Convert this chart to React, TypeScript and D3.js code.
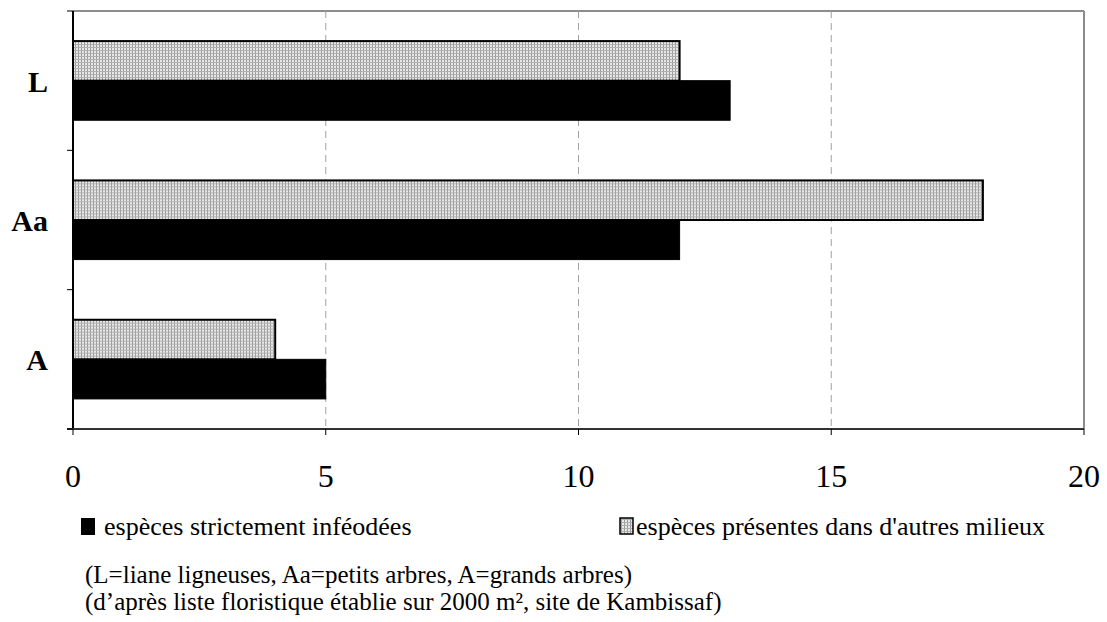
import React from "react";
import * as d3 from "d3";

const categories = ["L", "Aa", "A"];
const seriesNames = ["espèces présentes dans d'autres milieux", "espèces strictement inféodées"];
const presentesValues = [12, 18, 4];
const infeodeesValues = [13, 12, 5];
const xTicks = [0, 5, 10, 15, 20];
const noteLines = [
  "(L=liane ligneuses, Aa=petits arbres, A=grands arbres)",
  "(d\u2019après liste floristique établie sur 2000 m², site de Kambissaf)",
];

const W = 1107;
const H = 622;
const left = 73;
const right = 1084;
const top = 11;
const bottom = 429;
const FONT = "Liberation Serif, Times New Roman, Times, serif";

export default function App() {
  const x = d3.scaleLinear().domain([0, 20]).range([left, right]);
  const y = d3.scaleBand<string>().domain(categories).range([top, bottom]).padding(0);
  const inner = d3
    .scaleBand<string>()
    .domain(["presentes", "infeodees"])
    .range([0, y.bandwidth()])
    .paddingInner(0)
    .paddingOuter(0.76);
  const bands = categories.map((c) => y(c)!);
  const yTickPos = [...bands, bottom];
  const ts = { fontFamily: FONT };

  return (
    <svg width={W} height={H} style={{ position: "absolute", left: 0, top: 0, background: "#fff", fontFamily: FONT }}>
      <defs>
        <pattern id="dots" width={3} height={3} patternUnits="userSpaceOnUse">
          <rect width={3} height={3} fill="#e8e8e8" />
          <rect x={0} y={0} width={1} height={3} fill="#9a9a9a" />
          <rect x={0} y={0} width={3} height={1} fill="#b0b0b0" />
        </pattern>
      </defs>
      {/* frame */}
      <line x1={left} x2={right} y1={top} y2={top} stroke="#8c8c8c" strokeWidth={2} />
      <line x1={right} x2={right} y1={top} y2={bottom} stroke="#8c8c8c" strokeWidth={2} />
      {/* gridlines */}
      {xTicks.slice(1, -1).map((t) => (
        <line key={t} x1={x(t)} x2={x(t)} y1={top} y2={bottom} stroke="#a0a0a0" strokeWidth={1} strokeDasharray="7,5" />
      ))}
      {/* bars */}
      {categories.map((c, i) => (
        <g key={c} transform={`translate(0,${y(c)})`}>
          <rect
            x={x(0)}
            y={inner("presentes")}
            width={x(presentesValues[i]) - x(0)}
            height={inner.bandwidth()}
            fill="url(#dots)"
            stroke="#000"
            strokeWidth={2}
          />
          <rect
            x={x(0)}
            y={inner("infeodees")}
            width={x(infeodeesValues[i]) - x(0)}
            height={inner.bandwidth()}
            fill="#000"
            stroke="#000"
            strokeWidth={1}
          />
        </g>
      ))}
      {/* axes */}
      <line x1={left} x2={left} y1={top} y2={bottom} stroke="#000" strokeWidth={2} />
      <line x1={left - 6} x2={right} y1={bottom} y2={bottom} stroke="#333" strokeWidth={2} />
      {yTickPos.map((p, i) => (
        <line key={i} x1={left - 6} x2={left} y1={p} y2={p} stroke="#000" strokeWidth={1} />
      ))}
      {xTicks.map((t) => (
        <line key={t} x1={x(t)} x2={x(t)} y1={bottom} y2={bottom + 6} stroke="#000" strokeWidth={1} />
      ))}
      {xTicks.map((t) => (
        <text key={t} x={x(t)} y={487} textAnchor="middle" fontSize={32} fill="#000" style={ts}>
          {t}
        </text>
      ))}
      {categories.map((c) => (
        <text key={c} x={48} y={y(c)! + y.bandwidth() / 2 + 11} textAnchor="end" fontSize={30} fontWeight="bold" fill="#000" style={ts}>
          {c}
        </text>
      ))}
      {/* legend */}
      <rect x={81} y={518} width={14} height={17} fill="#000" />
      <text x={104} y={535} fontSize={26} fill="#000" style={ts}>{seriesNames[1]}</text>
      <rect x={620} y={518} width={13} height={16} fill="url(#dots)" stroke="#000" strokeWidth={1.5} />
      <text x={636} y={535} fontSize={26} fill="#000" style={ts}>{seriesNames[0]}</text>
      {noteLines.map((l, i) => (
        <text key={i} x={85} y={583 + i * 27} fontSize={25} fill="#000" style={ts}>{l}</text>
      ))}
    </svg>
  );
}
